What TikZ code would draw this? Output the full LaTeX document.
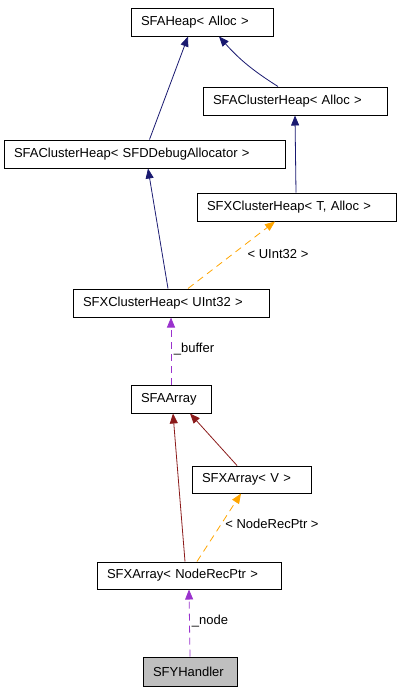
\documentclass[tikz,border=0pt]{standalone}
\usepackage{fontspec}
\setmainfont{Liberation Sans}
\usetikzlibrary{arrows.meta}
\definecolor{inhnavy}{HTML}{191970}
\definecolor{inhred}{HTML}{8B1A1A}
\definecolor{tplorange}{HTML}{FFA500}
\definecolor{usepurple}{HTML}{9A32CD}
\begin{document}
\begin{tikzpicture}[x=1pt,y=-1pt,>={Triangle[length=10pt,width=8pt]},
  cls/.style={draw,line width=1pt,inner xsep=10pt,inner ysep=0pt,text width=#1,align=left,
    minimum height=28pt,font=\fontsize{13}{15}\selectfont},
  inh/.style={->,line width=0.8pt},
  tpl/.style={->,line width=0.8pt,color=tplorange,dash pattern=on 7pt off 5pt},
  usage/.style={->,line width=0.8pt,color=usepurple,dash pattern=on 7pt off 5pt},
  lbl/.style={font=\fontsize{13}{15}\selectfont,inner sep=0pt}]
\useasboundingbox (0,0) rectangle (400,691);
\node[cls=122pt] (heap) at (202,22) {SFAHeap< Alloc >};
\node[cls=164pt] (clalloc) at (295,101) {SFAClusterHeap< Alloc >};
\node[cls=261pt] (cldbg) at (144.5,154) {SFAClusterHeap< SFDDebugAllocator >};
\node[cls=179pt] (xcl) at (296.5,207) {SFXClusterHeap< T, Alloc >};
\node[cls=176pt] (xclu) at (171,303) {SFXClusterHeap< UInt32 >};
\node[cls=60pt] (arr) at (171,399) {SFAArray};
\node[cls=99pt,minimum height=27pt] (xarrv) at (251.5,479.5) {SFXArray< V >};
\node[cls=164pt,minimum height=27pt] (xarrn) at (189,575.5) {SFXArray< NodeRecPtr >};
\node[cls=74pt,minimum height=29pt,fill=black!25] (handler) at (190,671.5) {SFYHandler};
% inheritance
\draw[inh,inhnavy] ([xshift=5pt]cldbg.north) -- ([xshift=-14pt]heap.south);
\draw[inh,inhnavy] ([xshift=-17pt]clalloc.north) to[bend left=8] ([xshift=17pt]heap.south);
\draw[inh,inhnavy] ([xshift=-0.5pt]xcl.north) -- (clalloc.south);
\draw[inh,inhnavy] ([xshift=-3pt]xclu.north) -- ([xshift=3.5pt]cldbg.south);
\draw[inh,inhred] ([xshift=-4pt]xarrn.north) -- ([xshift=2pt]arr.south);
\draw[inh,inhred] ([xshift=-14.5pt]xarrv.north) -- ([xshift=19pt]arr.south);
% templates
\draw[tpl] ([xshift=17pt]xclu.north) -- ([xshift=-21.5pt]xcl.south);
\node[lbl] (lu) at (278,254) {< UInt32 >};
\draw[tpl] ([xshift=8pt]xarrn.north) -- ([xshift=-10.5pt]xarrv.south);
\node[lbl] (ln) at (272,524) {< NodeRecPtr >};
% usage
\draw[usage] (arr.north) -- (xclu.south);
\node[lbl] (lb) at (194,349) {\_buffer};
\draw[usage] (handler.north) -- (xarrn.south);
\node[lbl] (lnode) at (210,621) {\_node};
\end{tikzpicture}
\end{document}
